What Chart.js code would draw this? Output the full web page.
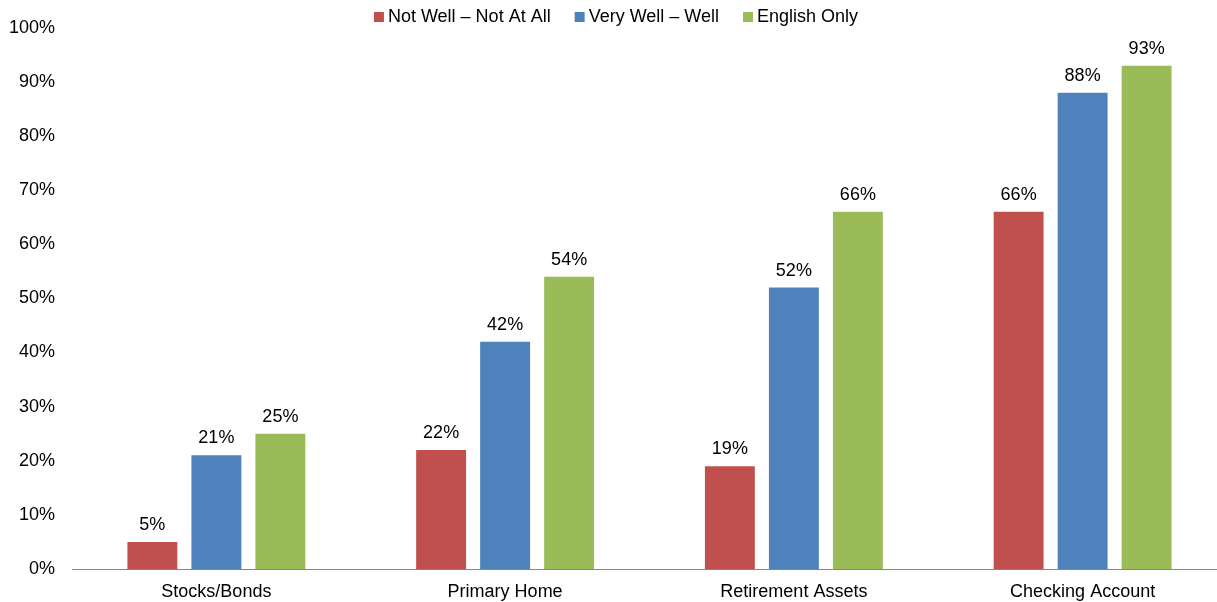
<!DOCTYPE html>
<html>
<head>
<meta charset="utf-8">
<script src="https://cdn.jsdelivr.net/npm/chart.js@4/dist/chart.umd.min.js"></script>
<style>
  html, body { margin: 0; padding: 0; background: #fff; overflow: hidden; }
  /* the plot runs slightly past the right edge of the window */
  #wrap { width: 1227px; height: 602px; position: relative; }
</style>
</head>
<body>
<div id="wrap"><canvas id="c"></canvas></div>
<script>
const categories = ['Stocks/Bonds', 'Primary Home', 'Retirement Assets', 'Checking Account'];
const notWell = [5, 22, 19, 66];
const veryWell = [21, 42, 52, 88];
const englishOnly = [25, 54, 66, 93];
const yTicks = [0, 10, 20, 30, 40, 50, 60, 70, 80, 90, 100];

const FONT = 'Arial, "Liberation Sans", sans-serif';
const FONT_SIZE = 18;

// Writes each bar's percentage just above its top
const valueLabels = {
  id: 'valueLabels',
  afterDatasetsDraw(chart) {
    const ctx = chart.ctx;
    ctx.save();
    ctx.font = FONT_SIZE + 'px ' + FONT;
    ctx.fillStyle = '#000';
    ctx.textAlign = 'center';
    ctx.textBaseline = 'alphabetic';
    chart.data.datasets.forEach((ds, i) => {
      chart.getDatasetMeta(i).data.forEach((bar, j) => {
        ctx.fillText(ds.data[j] + '%', bar.x, bar.y - 12);
      });
    });
    ctx.restore();
  }
};

// Single-row legend across the top, drawn over the plot's top margin
const topLegend = {
  id: 'topLegend',
  afterDraw(chart) {
    const ctx = chart.ctx;
    const box = 10, boxGap = 4, itemGap = 24, cy = 17, centerX = 616;
    ctx.save();
    ctx.font = FONT_SIZE + 'px ' + FONT;
    ctx.textBaseline = 'middle';
    ctx.textAlign = 'left';
    const items = chart.data.datasets.map(ds => ({
      text: ds.label, color: ds.backgroundColor, w: ctx.measureText(ds.label).width
    }));
    const total = items.reduce((s, it) => s + box + boxGap + it.w, 0) + itemGap * (items.length - 1);
    let x = centerX - total / 2;
    items.forEach(it => {
      ctx.fillStyle = it.color;
      ctx.fillRect(x, cy - box / 2, box, box);
      ctx.fillStyle = '#000';
      ctx.fillText(it.text, x + box + boxGap, cy);
      x += box + boxGap + it.w + itemGap;
    });
    ctx.restore();
  }
};

new Chart(document.getElementById('c'), {
  type: 'bar',
  data: {
    labels: categories,
    datasets: [
      { label: 'Not Well \u2013 Not At All', data: notWell, backgroundColor: '#C0504D' },
      { label: 'Very Well \u2013 Well', data: veryWell, backgroundColor: '#4F81BD' },
      { label: 'English Only', data: englishOnly, backgroundColor: '#9BBB59' }
    ]
  },
  options: {
    responsive: true,
    maintainAspectRatio: false,
    animation: false,
    layout: { padding: { left: 0, right: 0, top: 23, bottom: 0 } },
    datasets: { bar: { categoryPercentage: 0.665, barPercentage: 0.78 } },
    plugins: {
      legend: { display: false },
      tooltip: { enabled: false }
    },
    scales: {
      x: {
        afterFit(axis) { axis.height = 33; },
        grid: { display: false, drawTicks: false },
        border: { color: '#868686', width: 1 },
        ticks: { font: { family: FONT, size: FONT_SIZE }, color: '#000', padding: 12 }
      },
      y: {
        min: 0,
        max: 100,
        afterFit(axis) { axis.width = 72; },
        afterBuildTicks(axis) { axis.ticks = yTicks.map(v => ({ value: v })); },
        grid: { display: false, drawTicks: false },
        border: { display: false },
        ticks: {
          font: { family: FONT, size: FONT_SIZE },
          color: '#000',
          padding: 17,
          callback: v => v + '%'
        }
      }
    }
  },
  plugins: [valueLabels, topLegend]
});
</script>
</body>
</html>
